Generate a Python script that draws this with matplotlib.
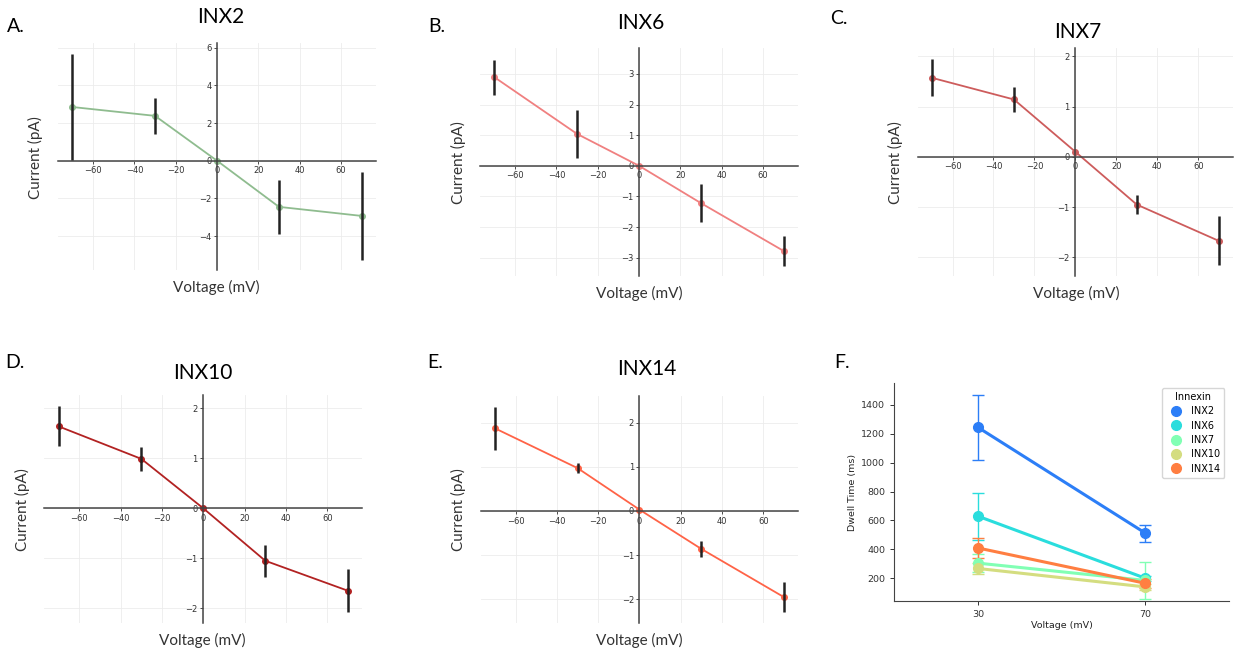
import numpy as np
import matplotlib
matplotlib.use("Agg")
import matplotlib.pyplot as plt
from matplotlib.lines import Line2D

# I-V data
voltage = [-70, -30, 0, 30, 70]

inx2_current = [2.85, 2.38, 0.0, -2.45, -2.93]
inx2_err = [2.8, 0.95, 0.0, 1.45, 2.35]

inx6_current = [2.89, 1.04, 0.0, -1.22, -2.78]
inx6_err = [0.58, 0.78, 0.0, 0.62, 0.48]

inx7_current = [1.57, 1.14, 0.1, -0.95, -1.67]
inx7_err = [0.37, 0.25, 0.0, 0.19, 0.49]

inx10_current = [1.64, 0.99, 0.0, -1.05, -1.65]
inx10_err = [0.40, 0.24, 0.0, 0.32, 0.43]

inx14_current = [1.87, 0.97, 0.03, -0.86, -1.95]
inx14_err = [0.48, 0.12, 0.0, 0.18, 0.33]

# dwell time data (panel F)
dwell_voltage = ['30', '70']
innexins = ['INX2', 'INX6', 'INX7', 'INX10', 'INX14']
dwell_mean = {
    'INX2': [1245, 512],
    'INX6': [630, 200],
    'INX7': [305, 185],
    'INX10': [268, 140],
    'INX14': [410, 165],
}
dwell_err = {
    'INX2': [225, 60],
    'INX6': [162, 18],
    'INX7': [60, 125],
    'INX10': [40, 22],
    'INX14': [72, 30],
}

W, H = 1234, 651
fig = plt.figure(figsize=(W / 100, H / 100), dpi=100)

label_font = ['Lato', 'DejaVu Sans']


def px(x, y):
    return x / W, 1 - y / H


def iv_panel(rect, cur, err, color, ylim, yticks):
    ax = fig.add_axes(rect)
    ax.errorbar(voltage, cur, yerr=err, fmt='none', ecolor='#222222',
                elinewidth=1.8, capsize=0, zorder=3)
    ax.plot(voltage, cur, color=color, lw=1.3, marker='o', ms=4, zorder=2)
    ax.set_xlim(-77, 77)
    ax.set_ylim(*ylim)
    ax.set_xticks([-60, -40, -20, 0, 20, 40, 60])
    ax.set_yticks(yticks)
    ax.spines['left'].set_position(('data', 0))
    ax.spines['bottom'].set_position(('data', 0))
    ax.spines['top'].set_visible(False)
    ax.spines['right'].set_visible(False)
    for s in ['left', 'bottom']:
        ax.spines[s].set_color('#444444')
        ax.spines[s].set_linewidth(1.1)
    ax.tick_params(labelsize=6, length=2, width=0.6, pad=2, colors='#333333')
    ax.grid(True, color='#ececec', lw=0.6)
    ax.set_axisbelow(True)
    return ax


iv_panel([0.047, 0.5853, 0.2577, 0.3487], inx2_current, inx2_err, '#8fbc8f',
         (-5.8, 6.25), [-4, -2, 0, 2, 4, 6])
iv_panel([0.389, 0.576, 0.2577, 0.350], inx6_current, inx6_err, '#f08080',
         (-3.6, 3.84), [-3, -2, -1, 0, 1, 2, 3])
iv_panel([0.7437, 0.576, 0.2555, 0.350], inx7_current, inx7_err, '#cd5c5c',
         (-2.37, 2.16), [-2, -1, 0, 1, 2])
iv_panel([0.0359, 0.0435, 0.2577, 0.3498], inx10_current, inx10_err, '#b22222',
         (-2.29, 2.27), [-2, -1, 0, 1, 2])
iv_panel([0.3895, 0.0435, 0.2574, 0.348], inx14_current, inx14_err, '#ff6347',
         (-2.53, 2.6), [-2, -1, 0, 1, 2])

# panel F: dwell time
axf = fig.add_axes([0.7245, 0.0773, 0.2717, 0.334])
cmap = plt.get_cmap('rainbow')
colors = [cmap(v) for v in np.linspace(0, 1, len(innexins) + 2)[1:-1]]
xpos = np.arange(len(dwell_voltage))
handles = []
for name, c in zip(innexins, colors):
    axf.errorbar(xpos, dwell_mean[name], yerr=dwell_err[name], color=c,
                 lw=2.2, elinewidth=1.0, capsize=4, capthick=1.0,
                 marker='o', ms=7)
    handles.append(Line2D([], [], color=c, marker='o', ls='none', ms=7))
axf.set_xlim(-0.5, 1.5)
axf.set_ylim(45, 1550)
axf.set_xticks(xpos)
axf.set_xticklabels(dwell_voltage)
axf.set_yticks([200, 400, 600, 800, 1000, 1200, 1400])
axf.spines['top'].set_visible(False)
axf.spines['right'].set_visible(False)
for s in ['left', 'bottom']:
    axf.spines[s].set_color('#444444')
axf.tick_params(labelsize=6.8, length=3, width=0.7, colors='#333333')
axf.set_xlabel('Voltage (mV)', fontsize=6.8, labelpad=2, color='#222222')
axf.set_ylabel('Dwell Time (ms)', fontsize=6.8, labelpad=3, color='#222222')
axf.legend(handles, innexins, title='Innexin', fontsize=7, title_fontsize=7,
           loc='upper right', frameon=True, handletextpad=0.6, labelspacing=0.45)

# panel letters, titles and axis labels
panel_text = [
    ('A.', (16, 26), 'INX2', (221, 17), (35, 158), (216, 287)),
    ('B.', (437, 27), 'INX6', (641, 23), (458, 163), (639, 293)),
    ('C.', (839, 19), 'INX7', (1078, 32), (895, 163), (1076, 293)),
    ('D.', (15, 362), 'INX10', (203, 373), (22, 510), (202, 640)),
    ('E.', (435, 362), 'INX14', (647, 369), (458, 510), (639, 640)),
]
for letter, lp, title, tp, yp, xp in panel_text:
    fig.text(*px(*lp), letter, fontsize=14, ha='center', va='center', family=label_font)
    fig.text(*px(*tp), title, fontsize=15, ha='center', va='center', family=label_font)
    fig.text(*px(*yp), 'Current (pA)', fontsize=11, rotation=90, ha='center',
             va='center', family=label_font, color='#333333')
    fig.text(*px(*xp), 'Voltage (mV)', fontsize=11, ha='center', va='center',
             family=label_font, color='#333333')
fig.text(*px(842, 362), 'F.', fontsize=14, ha='center', va='center', family=label_font)

fig.savefig('out.png', dpi=100)
